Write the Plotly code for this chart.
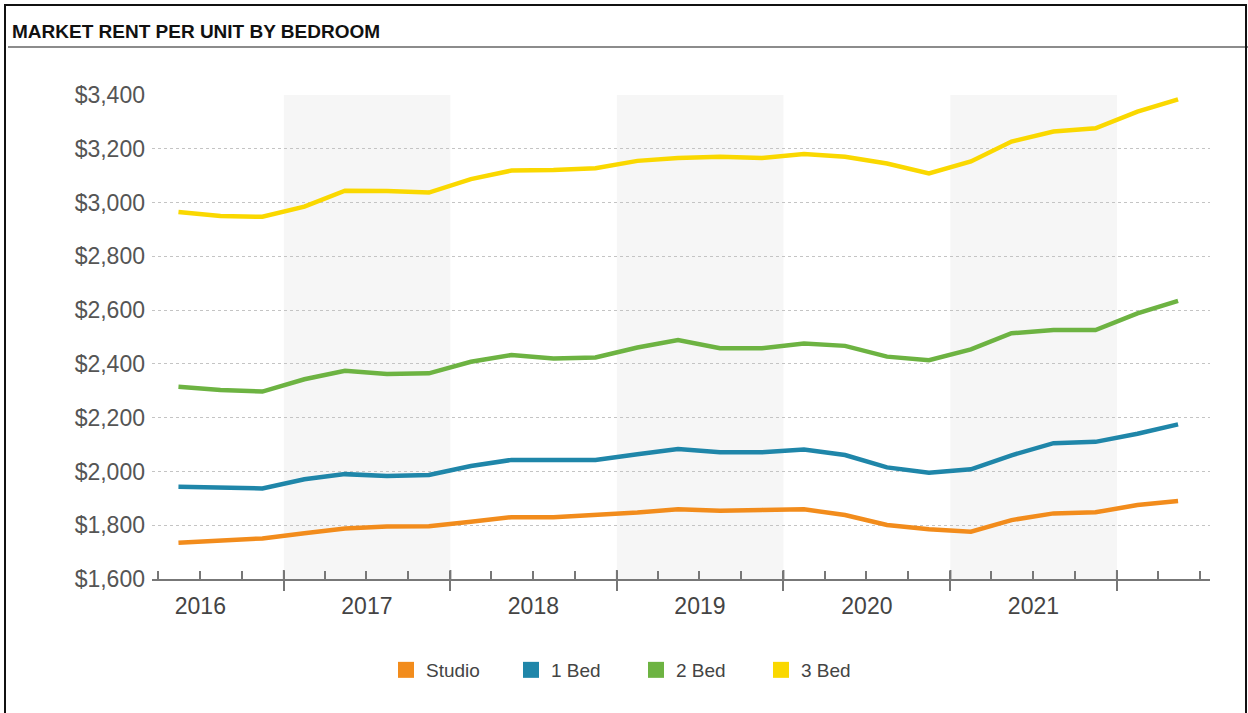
import plotly.graph_objects as go

# ---- data ----
quarters = ["2016-05-15", "2016-08-15", "2016-11-15",
            "2017-02-15", "2017-05-15", "2017-08-15", "2017-11-15",
            "2018-02-15", "2018-05-15", "2018-08-15", "2018-11-15",
            "2019-02-15", "2019-05-15", "2019-08-15", "2019-11-15",
            "2020-02-15", "2020-05-15", "2020-08-15", "2020-11-15",
            "2021-02-15", "2021-05-15", "2021-08-15", "2021-11-15",
            "2022-02-15", "2022-05-15"]
studio = [1735, 1742, 1751, 1770, 1788, 1795, 1796, 1813, 1830, 1830, 1838, 1847, 1859,
          1854, 1857, 1859, 1838, 1801, 1785, 1776, 1819, 1844, 1848, 1875, 1890]
bed1 = [1943, 1941, 1937, 1971, 1990, 1983, 1987, 2020, 2043, 2043, 2043, 2064, 2083,
        2071, 2071, 2082, 2061, 2015, 1995, 2008, 2060, 2105, 2110, 2140, 2175]
bed2 = [2315, 2303, 2297, 2343, 2374, 2362, 2365, 2408, 2433, 2420, 2424, 2461, 2489,
        2458, 2458, 2476, 2467, 2427, 2414, 2454, 2514, 2526, 2526, 2588, 2634]
bed3 = [2965, 2950, 2947, 2985, 3044, 3043, 3037, 3087, 3119, 3121, 3128, 3155, 3166,
        3170, 3166, 3181, 3170, 3145, 3108, 3153, 3227, 3264, 3276, 3338, 3384]
series_names = ["Studio", "1 Bed", "2 Bed", "3 Bed"]
series_colors = ["#F28C1C", "#1F86A9", "#6DB342", "#FAD800"]
year_labels = ["2016", "2017", "2018", "2019", "2020", "2021"]
year_mids = ["2016-07-02", "2017-07-02", "2018-07-02", "2019-07-02", "2020-07-02", "2021-07-02"]
year_bounds = ["2017-01-01", "2018-01-01", "2019-01-01", "2020-01-01", "2021-01-01", "2022-01-01"]
shaded_years = [("2017-01-01", "2018-01-01"), ("2019-01-01", "2020-01-01"), ("2021-01-01", "2022-01-01")]
y_ticks = [1600, 1800, 2000, 2200, 2400, 2600, 2800, 3000, 3200, 3400]
y_ticktext = ["${:,}".format(v) for v in y_ticks]

# ---- layout geometry ----
W, H = 1248, 713
L, R, T, B = 152, 38, 95, 134
PW, PH = W - L - R, H - T - B
def px(x):
    return (x - L) / PW
def py(y):
    return (H - B - y) / PH

x_range = ["2016-03-18", "2022-07-24"]

fig = go.Figure()
for name, vals, col in zip(series_names, [studio, bed1, bed2, bed3], series_colors):
    fig.add_trace(go.Scatter(x=quarters, y=vals, mode="lines", name=name,
                             line=dict(color=col, width=4.5), showlegend=False,
                             hovertemplate="%{y:$,}<extra>" + name + "</extra>"))
# invisible carrier trace so the label axis (x2) is rendered
fig.add_trace(go.Scatter(x=quarters, y=studio, xaxis="x2", mode="lines",
                         line=dict(width=0, color="rgba(0,0,0,0)"), opacity=0,
                         showlegend=False, hoverinfo="skip"))
for name, col in zip(series_names, series_colors):
    fig.add_trace(go.Scatter(x=[None], y=[None], mode="markers", name=name,
                             marker=dict(symbol="square", size=16, color=col)))

shapes = []
for a, b in shaded_years:
    shapes.append(dict(type="rect", xref="x", yref="y", x0=a, x1=b, y0=1600, y1=3400,
                       fillcolor="#f6f6f6", line=dict(width=0), layer="below"))
for d in year_bounds:
    shapes.append(dict(type="line", xref="x", yref="y domain", x0=d, x1=d, y0=0, y1=9 / PH,
                       line=dict(color="#777777", width=2)))
# title underline
shapes.append(dict(type="line", xref="paper", yref="paper", x0=px(8), x1=px(1248),
                   y0=py(47), y1=py(47), line=dict(color="#666666", width=1.5)))
# frame
shapes.append(dict(type="rect", xref="paper", yref="paper", x0=px(5), x1=px(1246),
                   y0=py(740), y1=py(5), line=dict(color="#111111", width=2)))

fig.update_layout(
    width=W, height=H,
    margin=dict(l=L, r=R, t=T, b=B),
    paper_bgcolor="white", plot_bgcolor="rgba(0,0,0,0)",
    font=dict(family="Arial, Liberation Sans, sans-serif", color="#444444"),
    title=dict(text="<b>MARKET RENT PER UNIT BY BEDROOM</b>", xref="container", yref="container",
               x=12 / W, y=1 - 31 / H, xanchor="left", yanchor="middle",
               font=dict(size=19, color="#111111")),
    shapes=shapes,
    showlegend=True,
    legend=dict(orientation="h", x=px(636), xanchor="center", y=py(670), yanchor="middle",
                font=dict(size=19, color="#444444"), entrywidth=80, entrywidthmode="pixels",
                bgcolor="rgba(0,0,0,0)"),
    xaxis=dict(type="date", range=x_range, dtick="M12", tick0="2016-01-01",
               ticks="outside", ticklen=10, tickwidth=2, tickcolor="#777777",
               showticklabels=False, showgrid=False, zeroline=False,
               showline=True, linecolor="#777777", linewidth=2,
               minor=dict(dtick="M3", tick0="2016-01-01", ticks="inside", ticklen=8,
                          tickwidth=1.5, tickcolor="#777777", showgrid=False),
               fixedrange=True),
    xaxis2=dict(type="date", range=x_range, overlaying="x", anchor="y", side="bottom",
                tickmode="array", tickvals=year_mids, ticktext=year_labels,
                ticks="", showline=False, showgrid=False, zeroline=False,
                tickfont=dict(size=23, color="#444444"), ticklabelstandoff=11,
                fixedrange=True),
    yaxis=dict(range=[1600, 3400], tickmode="array", tickvals=y_ticks, ticktext=y_ticktext,
               ticks="", showline=False, zeroline=False,
               showgrid=True, gridcolor="#c4c4c4", griddash="dot", gridwidth=1,
               tickfont=dict(size=23, color="#555555"), ticklabelstandoff=6,
               fixedrange=True),
)

fig.write_html("out.html")
